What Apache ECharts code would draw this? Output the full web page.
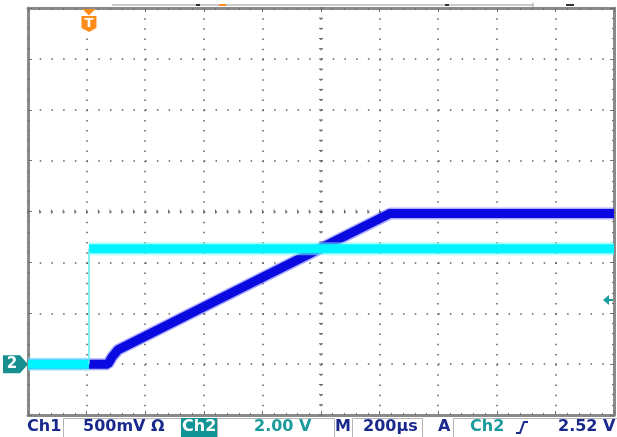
<!DOCTYPE html>
<html><head><meta charset="utf-8">
<script src="https://cdn.jsdelivr.net/npm/echarts/dist/echarts.min.js"></script>
<style>html,body{margin:0;padding:0;background:#fff}#c{width:617px;height:437px}</style>
</head><body><div id="c"></div><script>
const timePerDiv = 200;           // µs/div
const ch1PerDiv = 0.5;            // V/div
const ch2PerDiv = 2.0;            // V/div
const triggerTime = 208;          // µs from left edge of record
const triggerLevel = 2.52;        // V on Ch2
const ch1Times = [0, 273, 287, 307, 1235, 2000];
const ch1Volts = [0, 0, 0.07, 0.14, 1.48, 1.48];
const ch2Times = [0, 208, 208, 2000];
const ch2Volts = [0, 0, 4.54, 4.54];
const statusCh1 = "Ch1", statusCh1Scale = "500mV \u03A9";
const statusCh2 = "Ch2", statusCh2Scale = "2.00 V";
const statusM = "M", statusTime = "200\u00B5s";
const statusA = "A", statusTrigSrc = "Ch2", statusTrigLevel = "2.52 V";

const NAVY = '#1a2a8c', TEAL = '#1b9b9b';
const ch1Data = ch1Times.map((t, i) => [t, ch1Volts[i]]);
// Ch2: thick trace with a gap at the (fast) vertical edge, thin line for the edge itself
const ch2Thick = [], ch2Edges = [];
for (let i = 0; i < ch2Times.length; i++) {
  ch2Thick.push([ch2Times[i], ch2Volts[i]]);
  if (i + 1 < ch2Times.length && ch2Times[i + 1] === ch2Times[i]) {
    ch2Thick.push([ch2Times[i], '-']);
    ch2Edges.push([[ch2Times[i], ch2Volts[i]], [ch2Times[i + 1], ch2Volts[i + 1]]]);
  }
}

const chart = echarts.init(document.getElementById('c'), null, {renderer: 'canvas'});
const border = {show: true, onZero: false, lineStyle: {color: '#8a8a8a', width: 3}};
const tick = {show: true, inside: true, length: 4, lineStyle: {color: '#707070', width: 1}};
const minor = {show: true, splitNumber: 5, length: 2, lineStyle: {color: '#707070', width: 1}};
const gridL = 28, gridT = 8, gridW = 586, gridH = 407;

const series = [
  {type: 'line', xAxisIndex: 0, yAxisIndex: 0, data: ch1Data, symbol: 'none', silent: true,
   lineStyle: {color: 'rgba(70,70,255,0.45)', width: 12, cap: 'butt'}, z: 2},
  {type: 'line', xAxisIndex: 0, yAxisIndex: 0, data: ch1Data, symbol: 'none', silent: true,
   lineStyle: {color: '#0a0ae0', width: 9, cap: 'butt'}, z: 3},
  {type: 'line', xAxisIndex: 0, yAxisIndex: 1, data: ch2Thick, symbol: 'none', silent: true, connectNulls: false,
   lineStyle: {color: 'rgba(120,255,255,0.55)', width: 13, cap: 'butt'}, z: 4},
  {type: 'line', xAxisIndex: 0, yAxisIndex: 1, data: ch2Thick, symbol: 'none', silent: true, connectNulls: false,
   lineStyle: {color: '#00f4ff', width: 9, cap: 'butt'}, z: 5}
];
ch2Edges.forEach(e => series.push({type: 'line', xAxisIndex: 0, yAxisIndex: 1, data: e, symbol: 'none', silent: true,
  lineStyle: {color: '#5eeeee', width: 1.5}, z: 5}));

chart.setOption({
  animation: false,
  backgroundColor: '#ffffff',
  grid: {left: gridL, top: gridT, width: gridW, height: gridH, containLabel: false},
  xAxis: [
    {type: 'value', min: 0, max: 10 * timePerDiv, interval: timePerDiv, position: 'bottom',
     axisLine: border, axisTick: tick, minorTick: minor, axisLabel: {show: false},
     splitLine: {show: true, lineStyle: {color: '#5e5e5e', width: 1.5, type: [1.5, gridH / 40 - 1.5]}}},
    {type: 'value', min: 0, max: 10 * timePerDiv, interval: timePerDiv, position: 'top',
     axisLine: border, axisTick: tick, minorTick: minor, axisLabel: {show: false}, splitLine: {show: false}}
  ],
  yAxis: [
    {type: 'value', min: -1 * ch1PerDiv, max: 7 * ch1PerDiv, interval: ch1PerDiv, position: 'left',
     axisLine: border, axisTick: tick, minorTick: minor, axisLabel: {show: false},
     splitLine: {show: true, lineStyle: {color: '#5e5e5e', width: 1.5, type: [1.5, gridW / 50 - 1.5]}}},
    {type: 'value', min: -1 * ch2PerDiv, max: 7 * ch2PerDiv, interval: ch2PerDiv, position: 'right',
     axisLine: border, axisTick: tick, minorTick: minor, axisLabel: {show: false}, splitLine: {show: false}}
  ],
  series: series
});

const px = t => chart.convertToPixel({xAxisIndex: 0}, t);
const py1 = v => chart.convertToPixel({yAxisIndex: 0}, v);
const py2 = v => chart.convertToPixel({yAxisIndex: 1}, v);

const g = [];
// centre crosshair ticks
const cx = px(5 * timePerDiv), cy = py1(3 * ch1PerDiv);
for (let k = 0; k <= 40; k++) {
  const y = py1(-ch1PerDiv + k * ch1PerDiv / 5);
  g.push({type: 'line', shape: {x1: cx - 2, y1: y, x2: cx + 2, y2: y}, style: {stroke: '#666', lineWidth: 1}, z: 1});
}
for (let k = 0; k <= 50; k++) {
  const x = px(k * timePerDiv / 5);
  g.push({type: 'line', shape: {x1: x, y1: cy - 2, x2: x, y2: cy + 2}, style: {stroke: '#666', lineWidth: 1}, z: 1});
}
// record bar at top
g.push({type: 'line', shape: {x1: 112, y1: 5, x2: 533, y2: 5}, style: {stroke: '#b8b8b8', lineWidth: 1.5}});
g.push({type: 'line', shape: {x1: 533, y1: 3, x2: 533, y2: 7}, style: {stroke: '#b8b8b8', lineWidth: 1.5}});
g.push({type: 'rect', shape: {x: 196, y: 4, width: 4, height: 2}, style: {fill: '#333'}});
g.push({type: 'rect', shape: {x: 219, y: 4, width: 7, height: 2}, style: {fill: '#ff8c1a'}});
g.push({type: 'rect', shape: {x: 445, y: 4, width: 4, height: 2}, style: {fill: '#333'}});
g.push({type: 'rect', shape: {x: 566, y: 4, width: 8, height: 2}, style: {fill: '#333'}});
// trigger position marker T
const tx = px(triggerTime);
g.push({type: 'polygon', shape: {points: [[tx - 6.5, 9], [tx + 6.5, 9], [tx, 15.5]]}, style: {fill: '#ff8c1a'}, z: 60});
g.push({type: 'polygon', shape: {points: [[tx - 7.5, 16], [tx + 7.5, 16], [tx + 7.5, 28], [tx, 32], [tx - 7.5, 28]]}, style: {fill: '#ff8c1a'}, z: 60});
g.push({type: 'text', x: tx, y: 24, style: {text: 'T', fill: '#fff', font: 'bold 13px "DejaVu Sans"', align: 'center', verticalAlign: 'middle'}, z: 61});
// Ch2 ground marker
const gy = py2(0);
g.push({type: 'polygon', shape: {points: [[3, gy - 9], [20, gy - 9], [28, gy], [20, gy + 9], [3, gy + 9]]}, style: {fill: '#178f8f'}, z: 20});
g.push({type: 'text', x: 12, y: gy, style: {text: '2', fill: '#fff', font: 'bold 15px "DejaVu Sans"', align: 'center', verticalAlign: 'middle'}, z: 21});
// trigger level arrow
const ly = py2(triggerLevel);
g.push({type: 'polygon', shape: {points: [[603, ly], [609, ly - 5], [609, ly + 5]]}, style: {fill: TEAL}, z: 20});
g.push({type: 'line', shape: {x1: 608, y1: ly, x2: 613, y2: ly}, style: {stroke: TEAL, lineWidth: 2}, z: 20});
// status bar
const F = 'bold 16px "DejaVu Sans"', SY = 427;
const box = (x, w) => g.push({type: 'rect', shape: {x: x + 0.5, y: 418.5, width: w, height: 20}, style: {fill: 'none', stroke: '#b4b4b4', lineWidth: 1}});
const txt = (x, s, c) => g.push({type: 'text', x: x, y: SY, style: {text: s, fill: c, font: F, verticalAlign: 'middle'}, z: 30});
txt(27, statusCh1, NAVY);
box(63, 118);
txt(83, statusCh1Scale, NAVY);
g.push({type: 'rect', shape: {x: 181, y: 418, width: 36, height: 19}, style: {fill: '#139494'}});
txt(182, statusCh2, '#ffffff');
box(217, 117);
txt(254, statusCh2Scale, TEAL);
txt(335, statusM, NAVY);
box(352, 70);
txt(363, statusTime, NAVY);
txt(438, statusA, NAVY);
box(453, 170);
txt(470, statusTrigSrc, TEAL);
g.push({type: 'polyline', shape: {points: [[516, 433], [520, 433], [524, 422], [528, 422]]}, style: {stroke: NAVY, lineWidth: 2, fill: 'none'}, z: 30});
txt(558, statusTrigLevel, NAVY);

chart.setOption({graphic: g});
</script></body></html>
